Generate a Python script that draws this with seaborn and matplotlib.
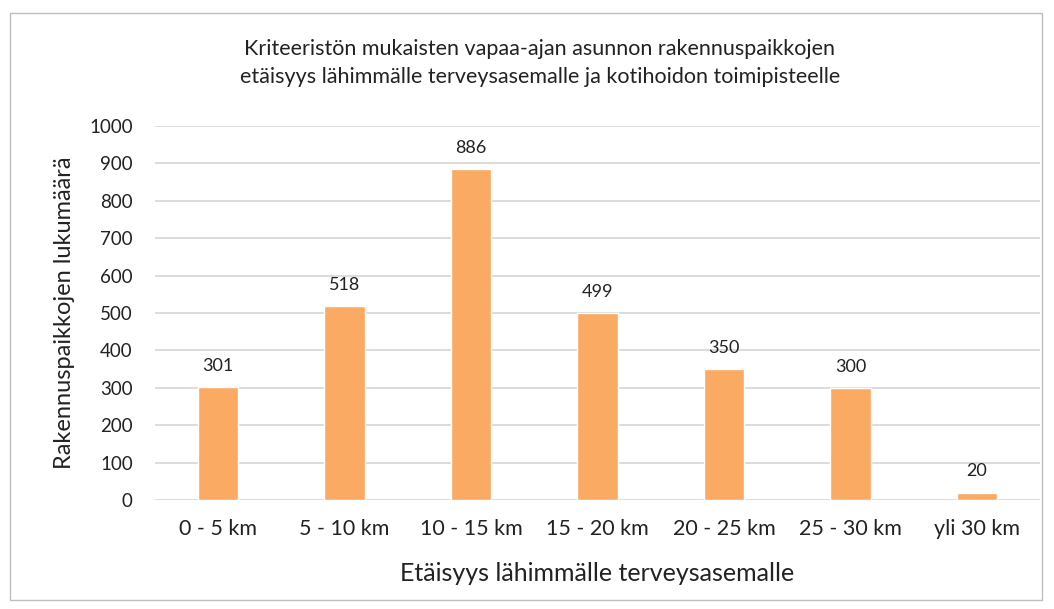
import matplotlib
matplotlib.use("Agg")
import matplotlib.pyplot as plt
import seaborn as sns
import pandas as pd
from matplotlib.patches import Rectangle

categories = ["0 - 5 km", "5 - 10 km", "10 - 15 km", "15 - 20 km", "20 - 25 km", "25 - 30 km", "yli 30 km"]
values = [301, 518, 886, 499, 350, 300, 20]
yticks = [0, 100, 200, 300, 400, 500, 600, 700, 800, 900, 1000]

title = "Kriteeristön mukaisten vapaa-ajan asunnon rakennuspaikkojen\netäisyys lähimmälle terveysasemalle ja kotihoidon toimipisteelle"
xlabel = "Etäisyys lähimmälle terveysasemalle"
ylabel = "Rakennuspaikkojen lukumäärä"

sns.set_theme(style="white")
plt.rcParams['font.family'] = ['Lato', 'DejaVu Sans']

df = pd.DataFrame({"cat": categories, "val": values})

fig = plt.figure(figsize=(10.54, 6.09), dpi=100)
ax = fig.add_axes([155/1054, 1-500/609, (1040-155)/1054, (500-126)/609])

sns.barplot(data=df, x="cat", y="val", color="#FBAA63", saturation=1, width=0.32, ax=ax, zorder=3)

ax.set_ylim(0, 1000)
ax.set_xlim(-0.5, len(categories)-0.5)
ax.set_yticks(yticks)
ax.set_yticklabels([str(t) for t in yticks], fontsize=13.5, color="#222222")
ax.tick_params(axis="x", labelsize=15.5, colors="#222222", pad=14, length=0)
ax.tick_params(axis="y", length=0, pad=16)
ax.yaxis.grid(True, color="#D9D9D9", linewidth=1.3, zorder=0)
ax.set_axisbelow(True)
for s in ax.spines.values():
    s.set_visible(False)

ax.set_xlabel(xlabel, fontsize=18, color="#222222", labelpad=16)
ax.set_ylabel(ylabel, fontsize=17, color="#222222", labelpad=10)

for i, v in enumerate(values):
    ax.text(i, v + 35, str(v), ha="center", va="bottom", fontsize=13, color="#222222")

fig.text(540/1054, 1-63/609, title, ha="center", va="center", fontsize=15.5, color="#222222", linespacing=1.45)

fig.patches.append(Rectangle((10/1054, 1-600/609), (1042-10)/1054, (600-13)/609,
                             transform=fig.transFigure, fill=False, edgecolor="#BFBFBF", linewidth=1))

fig.savefig("out.png", dpi=100)
